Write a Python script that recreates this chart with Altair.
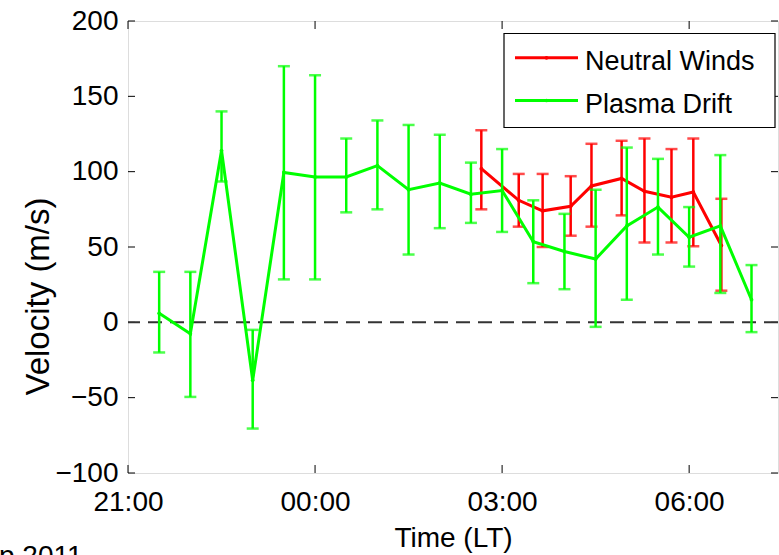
import altair as alt
import pandas as pd

# ---------------- data ----------------
green_times = ["21:30", "22:00", "22:30", "23:00", "23:30", "00:00", "00:30", "01:00",
               "01:30", "02:00", "02:30", "03:00", "03:30", "04:00", "04:30", "05:00",
               "05:30", "06:00", "06:30", "07:00"]
green_vel = [6, -7.5, 114, -38.5, 99.5, 96.5, 96.5, 104, 88, 92.5,
             85, 87.5, 53.5, 47, 42, 64, 76.5, 56.5, 64, 15]
green_lo = [-20, -49.5, 93.5, -70.5, 28.5, 28.5, 73, 75, 45, 62.5,
            66, 60, 26, 22, -3, 15, 45, 37, 19.5, -6.5]
green_hi = [33.5, 33.5, 140, -5, 170, 164, 122, 134, 131, 124.5,
            106, 115, 81, 72, 88, 116, 108.5, 76.5, 111, 38]

red_times = ["02:40", "03:16", "03:39", "04:06", "04:26", "04:55", "05:17", "05:43",
             "06:04", "06:31"]
red_vel = [102, 81, 74, 77, 90.5, 95.5, 87, 83, 86.5, 51]
red_lo = [75, 63.5, 50, 57.5, 63.5, 71, 53, 53, 50.5, 21]
red_hi = [127.5, 98.5, 98.5, 97, 118.5, 120.5, 122, 115, 122, 82]

series_names = ["Neutral Winds", "Plasma Drift"]
series_colors = ["#ff0000", "#00ff00"]

x_tick_values = [0, 3, 6, 9]
x_tick_labels = ["21:00", "00:00", "03:00", "06:00"]
y_tick_values = [-100, -50, 0, 50, 100, 150, 200]

x_title = "Time (LT)"
y_title = "Velocity (m/s)"
corner_text = "p 2011"


def hours_after_21(t):
    h, m = (int(s) for s in t.split(":"))
    v = h + m / 60.0 - 21
    return v + 24 if v < 0 else v


def frame(times, vel, lo, hi, name):
    return pd.DataFrame({
        "h": [hours_after_21(t) for t in times],
        "v": vel, "lo": lo, "hi": hi, "series": name,
    })


red_df = frame(red_times, red_vel, red_lo, red_hi, series_names[0])
green_df = frame(green_times, green_vel, green_lo, green_hi, series_names[1])

# ---------------- layout ----------------
W, H = 650, 452
FONT = "Liberation Sans"

label_expr = " : ".join(
    f"datum.value == {v} ? '{l}'" for v, l in zip(x_tick_values, x_tick_labels)
) + " : ''"

x_scale = alt.Scale(domain=[0, 10.425], nice=False, zero=False)
y_scale = alt.Scale(domain=[-100, 200], nice=False, zero=False)

x_axis = alt.Axis(values=x_tick_values, labelExpr=label_expr, ticks=False, tickSize=0,
                  domain=False, grid=False, labelFontSize=28, labelFont=FONT,
                  labelColor="black", labelBaseline="alphabetic", labelPadding=37,
                  labelFlush=False, labelOverlap=False,
                  title=x_title, titleFontSize=28, titleFont=FONT, titleFontWeight="normal",
                  titleColor="black", titleBaseline="alphabetic", titleY=73,
                  titleX=W / 2, titleAlign="center")
y_axis = alt.Axis(values=y_tick_values, ticks=False, tickSize=0, domain=False, grid=False,
                  labelFontSize=28, labelFont=FONT, labelColor="black", labelPadding=10,
                  labelFlush=False, labelOverlap=False,
                  title=y_title, titleFontSize=33, titleFont=FONT, titleFontWeight="normal",
                  titleColor="black", titleAngle=270, titleX=-90, titleY=275,
                  titleAlign="center", titleBaseline="middle")


def X(field):
    return alt.X(f"{field}:Q", scale=x_scale, axis=x_axis)


def Y(field):
    return alt.Y(f"{field}:Q", scale=y_scale, axis=y_axis)


ytick_df = pd.DataFrame({"v": y_tick_values})
xtick_df = pd.DataFrame({"h": x_tick_values})
zero_df = pd.DataFrame({"v": [0]})
text_df = pd.DataFrame({"t": [corner_text]})

tick_style = dict(color="black", strokeWidth=1)
left_ticks = alt.Chart(ytick_df).mark_rule(**tick_style).encode(
    y=Y("v"), x=alt.value(0), x2=alt.value(7))
right_ticks = alt.Chart(ytick_df).mark_rule(**tick_style).encode(
    y=Y("v"), x=alt.value(W - 7), x2=alt.value(W))
bottom_ticks = alt.Chart(xtick_df).mark_rule(**tick_style).encode(
    x=X("h"), y=alt.value(H), y2=alt.value(H - 8))
top_ticks = alt.Chart(xtick_df).mark_rule(**tick_style).encode(
    x=X("h"), y=alt.value(0), y2=alt.value(8))

zero_line = alt.Chart(zero_df).mark_rule(color="#333333", strokeWidth=2,
                                         strokeDash=[14, 8]).encode(y=Y("v"))


def series_layers(df, color):
    bars = alt.Chart(df).mark_rule(color=color, strokeWidth=2.5).encode(
        x=X("h"), y=Y("lo"), y2="hi:Q")
    cap_lo = alt.Chart(df).mark_tick(color=color, orient="horizontal", size=12,
                                     thickness=2.5).encode(x=X("h"), y=Y("lo"))
    cap_hi = alt.Chart(df).mark_tick(color=color, orient="horizontal", size=12,
                                     thickness=2.5).encode(x=X("h"), y=Y("hi"))
    line = alt.Chart(df).mark_line(strokeWidth=3, color=color).encode(
        x=X("h"), y=Y("v"))
    dots = alt.Chart(df).mark_circle(size=14, color=color, opacity=1).encode(
        x=X("h"), y=Y("v"))
    return [bars, cap_lo, cap_hi, line, dots]


# ---------------- legend (drawn in the plot's pixel space) ----------------
LX0, LX1, LY0, LY1 = 376, 647, 12.5, 106.5
legend_box = alt.Chart(zero_df).mark_rect(fill="white", stroke="black",
                                          strokeWidth=1.2).encode(
    x=alt.value(LX0), x2=alt.value(LX1), y=alt.value(LY0), y2=alt.value(LY1))

legend_layers = [legend_box]
row_line_y = [36.8, 79.5]
row_text_y = [48.5, 91.5]
for name, color, ly, ty in zip(series_names, series_colors, row_line_y, row_text_y):
    ldf = pd.DataFrame({"series": [name]})
    legend_layers.append(
        alt.Chart(ldf).mark_rule(color=color, strokeWidth=3).encode(
            x=alt.value(387), x2=alt.value(450), y=alt.value(ly)))
    legend_layers.append(
        alt.Chart(ldf).mark_circle(color=color, size=14, opacity=1).encode(
            x=alt.value(418.5), y=alt.value(ly)))
    legend_layers.append(
        alt.Chart(ldf).mark_text(align="left", baseline="alphabetic", fontSize=27,
                                 font=FONT, color="black").encode(
            text="series:N", x=alt.value(457), y=alt.value(ty)))

corner = alt.Chart(text_df).mark_text(align="left", baseline="alphabetic", fontSize=28,
                                      font=FONT, color="black").encode(
    text="t:N", x=alt.value(-129), y=alt.value(544))

chart = alt.layer(
    left_ticks, right_ticks, bottom_ticks, top_ticks, zero_line,
    *series_layers(red_df, series_colors[0]),
    *series_layers(green_df, series_colors[1]),
    *legend_layers,
    corner,
).properties(
    width=W, height=H,
    autosize=alt.AutoSizeParams(type="none"),
    padding={"left": 128, "top": 21, "right": 1, "bottom": 82},
).configure_view(stroke="black", strokeWidth=1.2).configure(background="white")

chart.save("out.html", embed_options={"renderer": "svg", "actions": False})
